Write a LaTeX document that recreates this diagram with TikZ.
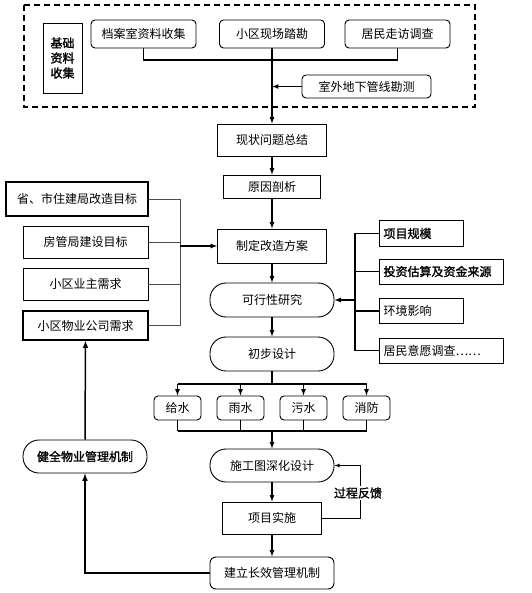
\documentclass[tikz,border=0pt]{standalone}
\usepackage{fontspec}
\usepackage{tikz}
\newfontfamily\cjk{Noto Sans CJK SC}
\newfontfamily\cjkb[FakeBold=1.6]{Noto Sans CJK SC}

\begin{document}
\begin{tikzpicture}[x=1pt, y=-1pt,
    every node/.style={font=\cjk\fontsize{12}{15}\selectfont, inner sep=0pt},
    box/.style={draw, line width=0.9pt, minimum height=#1},
    rbox/.style={draw, line width=0.9pt, rounded corners=4pt, minimum height=#1},
    pill/.style={draw, line width=0.9pt, rounded corners=16pt, minimum width=124pt, minimum height=#1},
    sidebox/.style={draw, line width=1pt, anchor=west, inner xsep=4pt, minimum height=25pt, align=left},
    pipe/.style={draw, line width=0.9pt, rounded corners=4pt, minimum width=47pt, minimum height=24pt},
    arr/.style={-latex, line width=1.2pt},
    link/.style={line width=1.2pt},
    thinlink/.style={line width=0.6pt, black!70}]
    \useasboundingbox (0,0) rectangle (531,593);

    % Draw the dashed frame of the survey stage
    \draw[dashed, line width=1.2pt, dash pattern=on 6pt off 4pt] (24,5) rectangle (475,107);
    \node[box=70pt, minimum width=39pt, align=center, font=\cjkb\fontsize{12}{15}\selectfont] (jichu) at (62.5,58) {基础\\资料\\收集};
    \node[rbox=28pt, minimum width=105pt] (dangan) at (143.5,34) {档案室资料收集};
    \node[rbox=28pt, minimum width=105pt] (xianchang) at (272,34) {小区现场踏勘};
    \node[rbox=28pt, minimum width=105pt] (jumin) at (397.5,34) {居民走访调查};
    \node[rbox=23pt, minimum width=129pt] (guanxian) at (366.5,86.5) {室外地下管线勘测};

    % Draw the main column
    \node[box=32pt, minimum width=109pt] (xianzhuang) at (272,140) {现状问题总结};
    \node[box=23pt, minimum width=97pt] (yuanyin) at (272,186.5) {原因剖析};
    \node[box=34pt, minimum width=109pt] (zhiding) at (272,246) {制定改造方案};
    \node[pill=34pt] (kexing) at (272,300) {可行性研究};
    \node[pill=34pt] (chubu) at (272,354) {初步设计};
    \node[pipe] (geishui) at (177.5,408) {给水};
    \node[pipe] (yushui) at (240.5,408) {雨水};
    \node[pipe] (wushui) at (303.5,408) {污水};
    \node[pipe] (xiaofang) at (366.5,408) {消防};
    \node[pill=33pt] (shigong) at (272,465.5) {施工图深化设计};
    \node[box=32pt, minimum width=99pt] (shishi) at (272,518) {项目实施};
    \node[rbox=32pt, minimum width=124pt, rounded corners=6pt] (changxiao) at (272,573) {建立长效管理机制};

    % Draw the targets and demands on the left
    \node[box=34pt, minimum width=142pt, line width=1.3pt] (sheng) at (77,199) {省、市住建局改造目标};
    \node[box=32pt, minimum width=125pt] (fangguan) at (85.5,242) {房管局建设目标};
    \node[box=32pt, minimum width=125pt] (yezhu) at (85.5,284) {小区业主需求};
    \node[box=29pt, minimum width=125pt, line width=1.3pt] (wuye) at (85.5,325.5) {小区物业公司需求};
    \node[pill=33pt, font=\cjkb\fontsize{12}{15}\selectfont] (jianquan) at (85,456.5) {健全物业管理机制};

    % Draw the study items on the right
    \node[sidebox, text width=76pt, font=\cjkb\fontsize{12}{15}\selectfont] (guimo) at (379,233.5) {项目规模};
    \node[sidebox, text width=116pt, font=\cjkb\fontsize{12}{15}\selectfont] (touzi) at (379,271.5) {投资估算及资金来源};
    \node[sidebox, text width=76pt] (huanjing) at (379,311) {环境影响};
    \node[sidebox, text width=116pt] (yiyuan) at (379,350.5) {居民意愿调查……};

    % Draw the connectors of the survey stage
    \coordinate (merge) at (272,60);
    \draw[link] (dangan.south) |- (merge) -| (jumin.south);
    \draw[arr] (xianchang.south) -- (xianzhuang.north);
    \draw[arr] (guanxian.west) -- (guanxian.west -| xianchang.south);

    % Draw the connectors of the main column
    \draw[arr] (xianzhuang.south) -- (yuanyin.north);
    \draw[arr] (yuanyin.south) -- (zhiding.north);
    \draw[arr] (zhiding.south) -- (kexing.north);
    \draw[arr] (kexing.south) -- (chubu.north);
    \coordinate (split) at (272,384);
    \draw[link] (chubu.south) -- (split);
    \draw[link] (split -| geishui.north) -- (split -| xiaofang.north);
    \foreach \p in {geishui, yushui, wushui, xiaofang}
        \draw[arr] (split -| \p.north) -- (\p.north);
    \coordinate (join) at (272,431);
    \foreach \p in {geishui, yushui, wushui, xiaofang}
        \draw[link] (\p.south) -- (join -| \p.south);
    \draw[link] (join -| geishui.south) -- (join -| xiaofang.south);
    \draw[arr] (join) -- (shigong.north);
    \draw[arr] (shigong.south) -- (shishi.north);
    \draw[arr] (shishi.south) -- (changxiao.north);

    % Draw the feedback loop
    \coordinate (back) at (360,518);
    \draw[arr, line width=0.8pt] (shishi.east) -- (back) |- (shigong.east);
    \node[fill=white, inner sep=1pt, font=\cjkb\fontsize{12}{15}\selectfont] (fankui) at (358,493) {过程反馈};

    % Draw the left inputs
    \coordinate (lbus) at (180,199);
    \draw[thinlink] (sheng.east) -- (lbus) |- (wuye.east);
    \draw[thinlink] (fangguan.east) -- (fangguan.east -| lbus);
    \draw[thinlink] (yezhu.east) -- (yezhu.east -| lbus);
    \draw[arr] (zhiding.west -| lbus) -- (zhiding.west);

    % Draw the right inputs
    \coordinate (rbus) at (355,233.5);
    \draw[link] (guimo.west) -- (rbus) |- (yiyuan.west);
    \draw[link] (touzi.west) -- (touzi.west -| rbus);
    \draw[link] (huanjing.west) -- (huanjing.west -| rbus);
    \draw[arr] (kexing.east -| rbus) -- (kexing.east);

    % Draw the management loop
    \draw[arr, line width=1.5pt] (changxiao.west) -| (jianquan.south);
    \draw[arr, line width=1.5pt] (jianquan.north) -- (wuye.south);
\end{tikzpicture}
\end{document}
